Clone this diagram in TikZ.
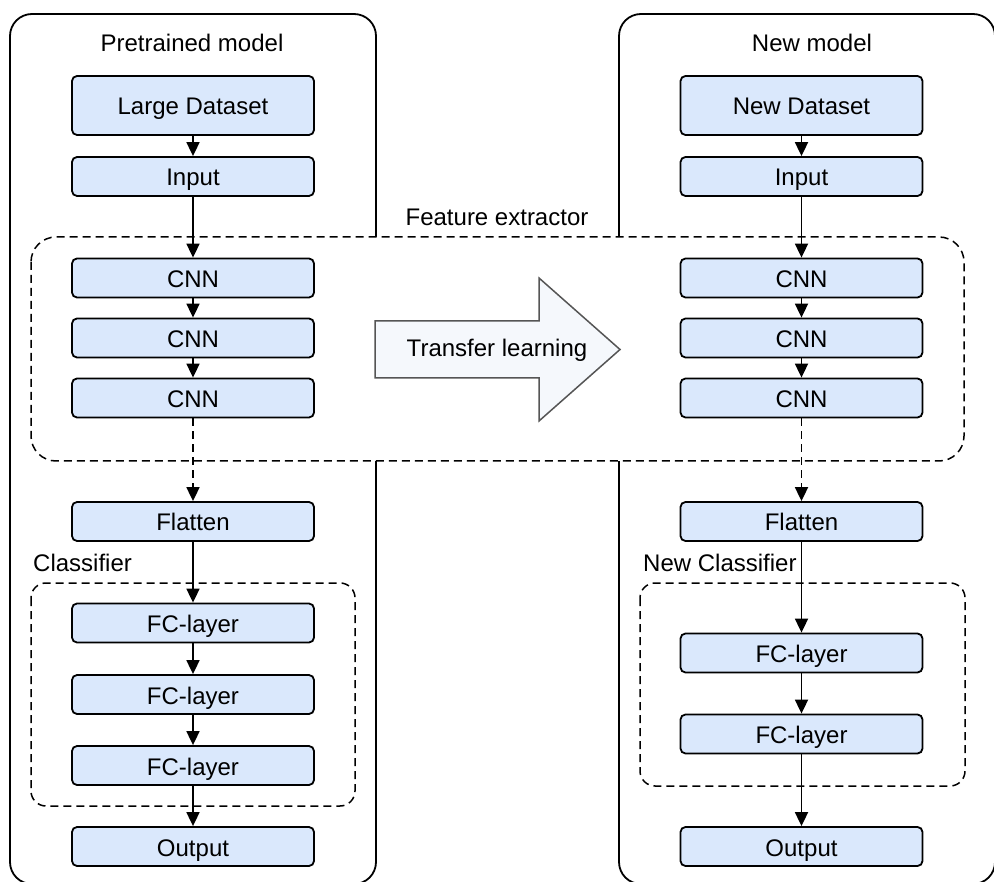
\documentclass[tikz,border=0pt]{standalone}
\usepackage{fontspec}
\setmainfont{Liberation Sans}
\usetikzlibrary{arrows.meta}
\definecolor{boxfill}{HTML}{DAE8FC}
\definecolor{tlfill}{HTML}{F5F8FC}
\definecolor{tlline}{HTML}{555555}
\begin{document}
\begin{tikzpicture}[x=1pt,y=-1pt,
  txt/.style={font=\fontsize{24}{28}\selectfont, inner sep=0pt},
  layer/.style={txt, draw=black, line width=1.8pt, fill=boxfill, rounded corners=5pt,
    minimum width=242pt, minimum height=39pt, text height=19pt, text depth=0pt},
  bigbox/.style={layer, minimum height=59pt},
  outer/.style={draw=black, line width=1.8pt, rounded corners=22pt},
  group/.style={draw=black, line width=1.5pt, dash pattern=on 8pt off 5pt},
  arr/.style={line width=1.8pt, -{Triangle[length=14pt,width=13pt]}},
  darr/.style={arr, dash pattern=on 8pt off 5pt}
]
\clip (0,0) rectangle (994,882);
% outer model frames
\draw[outer] (10,14) rectangle (376,884);
\draw[outer] (619,14) rectangle (995,884);
% feature extractor group
\draw[group, fill=white, rounded corners=25pt] (31,237) rectangle (964,461);
\node[txt] (fe) at (497,217) {Feature extractor};
% classifier groups
\draw[group, rounded corners=15pt] (31,583) rectangle (355,806);
\draw[group, rounded corners=15pt] (640,583) rectangle (965,786);
\node[txt, anchor=west] (cls) at (33,563) {Classifier};
\node[txt, anchor=west] (ncls) at (643,563) {New Classifier};
% titles
\node[txt] (tl) at (192,43) {Pretrained model};
\node[txt] (tr) at (812,43) {New model};
% left column
\node[bigbox] (ld) at (193,105.5) {Large Dataset};
\node[layer] (in1) at (193,176.5) {Input};
\node[layer] (c11) at (193,278) {CNN};
\node[layer] (c12) at (193,338) {CNN};
\node[layer] (c13) at (193,398) {CNN};
\node[layer] (fl1) at (193,521.5) {Flatten};
\node[layer] (f11) at (193,623) {FC-layer};
\node[layer] (f12) at (193,694.5) {FC-layer};
\node[layer] (f13) at (193,765.5) {FC-layer};
\node[layer] (o1) at (193,846.5) {Output};
% right column
\node[bigbox] (nd) at (801.5,105.5) {New Dataset};
\node[layer] (in2) at (801.5,176.5) {Input};
\node[layer] (c21) at (801.5,278) {CNN};
\node[layer] (c22) at (801.5,338) {CNN};
\node[layer] (c23) at (801.5,398) {CNN};
\node[layer] (fl2) at (801.5,521.5) {Flatten};
\node[layer] (f21) at (801.5,653) {FC-layer};
\node[layer] (f22) at (801.5,734) {FC-layer};
\node[layer] (o2) at (801.5,846.5) {Output};
% transfer learning arrow
\draw[line width=1.5pt, draw=tlline, fill=tlfill, line join=miter]
  (375,321) -- (539,321) -- (539,278) -- (620,349.5) -- (539,421) -- (539,378) -- (375,378) -- cycle;
\node[txt] (tlrn) at (497,350) {Transfer learning};
% connectors left
\draw[arr] (ld) -- (in1);
\draw[arr] (in1) -- (c11);
\draw[arr] (c11) -- (c12);
\draw[arr] (c12) -- (c13);
\draw[darr] (c13) -- (fl1);
\draw[arr] (fl1) -- (f11);
\draw[arr] (f11) -- (f12);
\draw[arr] (f12) -- (f13);
\draw[arr] (f13) -- (o1);
% connectors right
\draw[arr] (nd) -- (in2);
\draw[arr] (in2) -- (c21);
\draw[arr] (c21) -- (c22);
\draw[arr] (c22) -- (c23);
\draw[darr] (c23) -- (fl2);
\draw[arr] (fl2) -- (f21);
\draw[arr] (f21) -- (f22);
\draw[arr] (f22) -- (o2);
\end{tikzpicture}
\end{document}
